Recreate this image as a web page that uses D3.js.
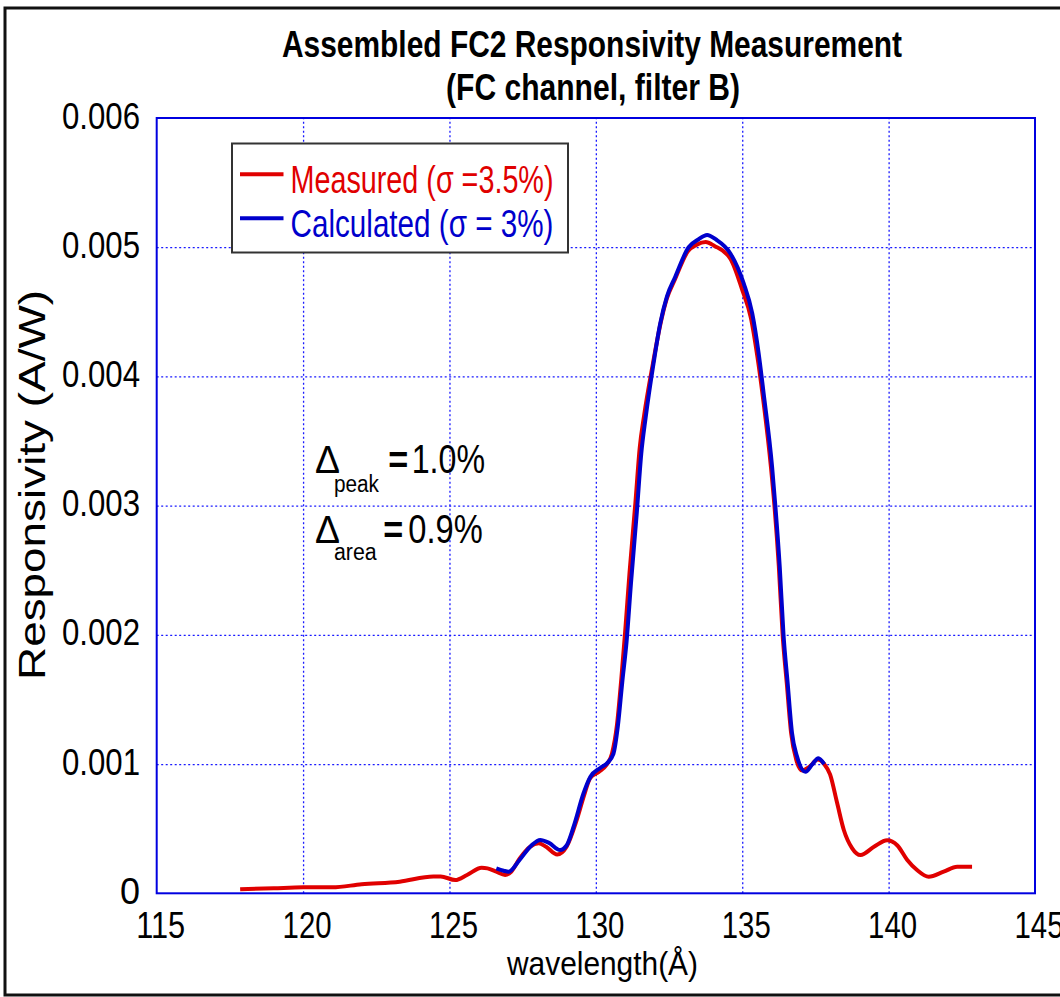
<!DOCTYPE html>
<html><head><meta charset="utf-8">
<script src="https://cdn.jsdelivr.net/npm/d3@7"></script>
<style>
body{margin:0;background:#fff}
svg{display:block}
text{font-family:"Liberation Sans",Arial,sans-serif}
</style>
</head><body>
<svg id="chart" width="1060" height="997"></svg>
<script>
// ---------- data ----------
const titleLines = ["Assembled FC2 Responsivity Measurement", "(FC channel, filter B)"];
const xAxisLabel = "wavelength(Å)";
const yAxisLabel = "Responsivity (A/W)";
const xTicks = [115, 120, 125, 130, 135, 140, 145];
const yTicks = [0, 0.001, 0.002, 0.003, 0.004, 0.005, 0.006];
const yTickLabels = ["0", "0.001", "0.002", "0.003", "0.004", "0.005", "0.006"];
const seriesNames = ["Measured (σ =3.5%)", "Calculated (σ = 3%)"];
const seriesColors = ["#e00000", "#0000cc"];

const measuredWavelength = [117.85, 119.0, 120.0, 121.0, 122.0, 123.3, 124.45, 124.7, 125.2, 125.6, 126.1, 126.3, 126.6, 126.9, 127.1, 127.4, 127.75, 128.05, 128.3, 128.68, 129.0, 129.35, 129.6, 129.8, 130.1, 130.35, 130.55, 130.72, 130.87, 131.0, 131.15, 131.35, 131.5, 131.65, 131.95, 132.2, 132.42, 132.7, 133.15, 133.45, 133.75, 134.05, 134.6, 135.0, 135.3, 135.52, 135.7, 135.98, 136.1, 136.25, 136.38, 136.52, 136.67, 136.85, 137.05, 137.3, 137.58, 137.8, 138.0, 138.24, 138.47, 138.75, 139.04, 139.5, 139.95, 140.3, 140.63, 140.97, 141.37, 141.88, 142.34, 142.85];
const measuredResponsivity = [0.000031, 0.000039, 0.000046, 0.000046, 0.00007, 0.00009, 0.00013, 0.00013, 0.000103, 0.000142, 0.000198, 0.000193, 0.000167, 0.000142, 0.000165, 0.00027, 0.00036, 0.000387, 0.00036, 0.0003, 0.00036, 0.00057, 0.00076, 0.00089, 0.00094, 0.00099, 0.00108, 0.0013, 0.00166, 0.00202, 0.00248, 0.00302, 0.00345, 0.0037, 0.0041, 0.0044, 0.0046, 0.00475, 0.00497, 0.00502, 0.00504, 0.00501, 0.00491, 0.00467, 0.00445, 0.00415, 0.00385, 0.0033, 0.003, 0.00253, 0.002, 0.00163, 0.00124, 0.00103, 0.00095, 0.00098, 0.001035, 0.001, 0.00092, 0.0007, 0.00049, 0.00035, 0.000296, 0.00036, 0.00041, 0.00037, 0.00026, 0.00018, 0.000128, 0.000167, 0.000206, 0.000206];

const calculatedWavelength = [126.6, 126.85, 127.02, 127.4, 127.8, 128.1, 128.4, 128.78, 129.0, 129.24, 129.58, 129.81, 130.15, 130.38, 130.6, 130.75, 130.9, 131.05, 131.2, 131.4, 131.55, 131.7, 131.97, 132.2, 132.43, 132.71, 133.17, 133.5, 133.8, 134.1, 134.6, 135.05, 135.34, 135.56, 135.73, 136.02, 136.13, 136.28, 136.41, 136.55, 136.7, 136.87, 137.16, 137.4, 137.6, 137.8];
const calculatedResponsivity = [0.000193, 0.000175, 0.000167, 0.00026, 0.00037, 0.000413, 0.00039, 0.000335, 0.00037, 0.000515, 0.000774, 0.0009, 0.00097, 0.001006, 0.00108, 0.00129, 0.00163, 0.00195, 0.0024, 0.00295, 0.0034, 0.00368, 0.0041, 0.00441, 0.00462, 0.00477, 0.005, 0.00506, 0.005095, 0.00506, 0.00495, 0.00472, 0.00449, 0.00418, 0.00387, 0.0033, 0.003, 0.00253, 0.002, 0.00163, 0.00124, 0.00106, 0.00094, 0.001, 0.001045, 0.001];

const annotations = [
  {main: "Δ", sub: "peak", value: "1.0%"},
  {main: "Δ", sub: "area", value: "0.9%"}
];

// ---------- layout ----------
const svg = d3.select("#chart");
const L = 156.7, R = 1035, T = 118, B = 893.3;
const x = d3.scaleLinear().domain([115, 145]).range([L, R]);
const y = d3.scaleLinear().domain([0, 0.006]).range([B, T]);
const gridColor = "#1a1aff";

// outer frame
svg.append("rect").attr("x", 5).attr("y", 8).attr("width", 1070).attr("height", 987)
  .attr("fill", "none").attr("stroke", "#111").attr("stroke-width", 3);

// grid via axes
const gx = svg.append("g").attr("transform", `translate(0,${B})`)
  .call(d3.axisBottom(x).tickValues(xTicks.slice(1, -1)).tickSize(-(B - T)).tickFormat(""));
gx.select(".domain").remove();
gx.selectAll("line").attr("stroke", gridColor).attr("stroke-width", 1.3).attr("stroke-dasharray", "2,2.5");
const gy = svg.append("g").attr("transform", `translate(${L},0)`)
  .call(d3.axisLeft(y).tickValues(yTicks.slice(1, -1)).tickSize(-(R - L)).tickFormat(""));
gy.select(".domain").remove();
gy.selectAll("line").attr("stroke", gridColor).attr("stroke-width", 1.3).attr("stroke-dasharray", "2,2.5");

// tick labels via axes
const ax = svg.append("g").attr("transform", `translate(0,${B})`)
  .call(d3.axisBottom(x).tickValues(xTicks).tickSize(0).tickFormat(d3.format("d")));
ax.select(".domain").remove();
ax.selectAll("text").attr("font-size", 36).attr("fill", "#000").attr("font-family", "Liberation Sans, Arial, sans-serif")
  .attr("y", 45).attr("dy", null).attr("dx", 3.5)
  .attr("textLength", 49).attr("lengthAdjust", "spacingAndGlyphs");

const ay = svg.append("g").attr("transform", `translate(${L},0)`)
  .call(d3.axisLeft(y).tickValues(yTicks).tickSize(0).tickFormat((d, i) => yTickLabels[i]));
ay.select(".domain").remove();
ay.selectAll("text").attr("font-size", 36).attr("fill", "#000").attr("font-family", "Liberation Sans, Arial, sans-serif")
  .attr("x", -16.7).attr("dy", 10)
  .each(function(d, i) {
    if (yTickLabels[i].length > 1) d3.select(this).attr("textLength", 78).attr("lengthAdjust", "spacingAndGlyphs");
  });

// plot box
svg.append("rect").attr("x", L).attr("y", T).attr("width", R - L).attr("height", B - T)
  .attr("fill", "none").attr("stroke", "#0000e0").attr("stroke-width", 2);

// curves
const line = d3.line().x(d => x(d[0])).y(d => y(d[1])).curve(d3.curveMonotoneX);
const measured = measuredWavelength.map((w, i) => [w, measuredResponsivity[i]]);
const calculated = calculatedWavelength.map((w, i) => [w, calculatedResponsivity[i]]);
svg.append("path").datum(measured).attr("d", line).attr("fill", "none")
  .attr("stroke", seriesColors[0]).attr("stroke-width", 4).attr("stroke-linejoin", "round");
svg.append("path").datum(calculated).attr("d", line).attr("fill", "none")
  .attr("stroke", seriesColors[1]).attr("stroke-width", 4).attr("stroke-linejoin", "round");

// legend
const lg = svg.append("g");
lg.append("rect").attr("x", 232).attr("y", 143.5).attr("width", 336).attr("height", 109)
  .attr("fill", "#fff").attr("stroke", "#333").attr("stroke-width", 2);
const legendRowsY = [174.3, 218.3];
seriesNames.forEach((name, i) => {
  lg.append("line").attr("x1", 240).attr("x2", 283.5).attr("y1", legendRowsY[i]).attr("y2", legendRowsY[i])
    .attr("stroke", seriesColors[i]).attr("stroke-width", 4);
  lg.append("text").attr("x", 290.5).attr("y", legendRowsY[i] + 19).attr("font-size", 39)
    .attr("fill", seriesColors[i]).attr("textLength", 263).attr("lengthAdjust", "spacingAndGlyphs").text(name);
});

// annotations
const annBase = [472.7, 542.7];
const annSubBase = [491.7, 560];
const annSubW = [45, 42.7];
const annEqX = [388.3, 383.3];
const annValX = [411.7, 408.3];
const annValW = [73.3, 74.4];
annotations.forEach((a, i) => {
  svg.append("text").attr("x", 315).attr("y", annBase[i]).attr("font-size", 38).attr("textLength", 25)
    .attr("lengthAdjust", "spacingAndGlyphs").text(a.main);
  svg.append("text").attr("x", 334).attr("y", annSubBase[i]).attr("font-size", 23).attr("textLength", annSubW[i])
    .attr("lengthAdjust", "spacingAndGlyphs").text(a.sub);
  svg.append("text").attr("x", annEqX[i]).attr("y", annBase[i]).attr("font-size", 39).attr("font-weight", "bold")
    .attr("textLength", 20).attr("lengthAdjust", "spacingAndGlyphs").text("=");
  svg.append("text").attr("x", annValX[i]).attr("y", annBase[i]).attr("font-size", 40).attr("textLength", annValW[i])
    .attr("lengthAdjust", "spacingAndGlyphs").text(a.value);
});

// title
svg.append("text").attr("x", 592).attr("y", 57).attr("text-anchor", "middle").attr("font-size", 36)
  .attr("font-weight", "bold").attr("textLength", 620).attr("lengthAdjust", "spacingAndGlyphs").text(titleLines[0]);
svg.append("text").attr("x", 593).attr("y", 100).attr("text-anchor", "middle").attr("font-size", 36)
  .attr("font-weight", "bold").attr("textLength", 294).attr("lengthAdjust", "spacingAndGlyphs").text(titleLines[1]);

// axis titles
svg.append("text").attr("x", 602.5).attr("y", 975).attr("text-anchor", "middle").attr("font-size", 34)
  .attr("textLength", 191).attr("lengthAdjust", "spacingAndGlyphs").text(xAxisLabel);
svg.append("text").attr("transform", "translate(45,485) rotate(-90)").attr("text-anchor", "middle")
  .attr("font-size", 37).attr("textLength", 390).attr("lengthAdjust", "spacingAndGlyphs").text(yAxisLabel);
</script>
</body></html>
